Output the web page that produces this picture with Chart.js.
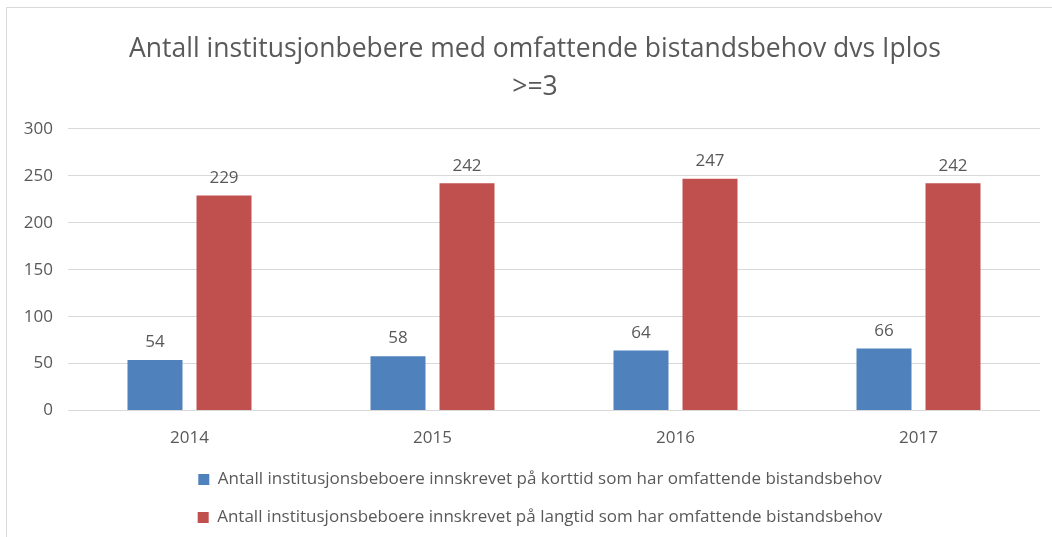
<!DOCTYPE html>
<html>
<head>
<meta charset="utf-8">
<script src="https://cdn.jsdelivr.net/npm/chart.js@4/dist/chart.umd.min.js"></script>
<style>
  html, body { margin: 0; padding: 0; background: #fff; overflow: hidden; }
  #wrap { position: relative; width: 1052px; height: 537px; overflow: hidden; }
  #frame { position: absolute; left: 6px; top: 7px; width: 1100px; height: 600px; border: 1px solid #d9d9d9; box-sizing: border-box; }
  #chart { position: absolute; left: 0; top: 0; }
</style>
</head>
<body>
<div id="wrap">
  <div id="frame"></div>
  <canvas id="chart" width="1052" height="543"></canvas>
</div>
<script>
const years = ["2014", "2015", "2016", "2017"];
const shortTerm = [54, 58, 64, 66];
const longTerm = [229, 242, 247, 242];
const yTicks = [0, 50, 100, 150, 200, 250, 300];

const textColor = "#595959";
const fontFamily = "'Open Sans', 'Noto Sans', sans-serif";

// numbers above each bar
const valueLabels = {
  id: "valueLabels",
  afterDatasetsDraw(chart) {
    const { ctx } = chart;
    ctx.save();
    ctx.fillStyle = textColor;
    ctx.font = "17px " + fontFamily;
    ctx.textAlign = "center";
    ctx.textBaseline = "bottom";
    chart.data.datasets.forEach((ds, i) => {
      chart.getDatasetMeta(i).data.forEach((bar, j) => {
        ctx.fillText(ds.data[j], bar.x, bar.y - 9);
      });
    });
    ctx.restore();
  },
};

// small offsets so title and legend sit where the original has them
const boxNudge = {
  id: "boxNudge",
  afterLayout(chart) {
    const move = (box, dx, dy) => {
      if (!box) return;
      box.left += dx;
      box.right += dx;
      box.top += dy;
      box.bottom += dy;
    };
    move(chart.titleBlock, 15, 0);
    move(chart.legend, 20, -7);
  },
};

new Chart(document.getElementById("chart"), {
  type: "bar",
  data: {
    labels: years,
    datasets: [
      {
        label: "Antall institusjonsbeboere innskrevet på korttid som har omfattende bistandsbehov",
        data: shortTerm,
        backgroundColor: "#4f81bd",
      },
      {
        label: "Antall institusjonsbeboere innskrevet på langtid som har omfattende bistandsbehov",
        data: longTerm,
        backgroundColor: "#c0504d",
      },
    ],
  },
  options: {
    responsive: false,
    animation: false,
    categoryPercentage: 0.568,
    barPercentage: 0.797,
    layout: { padding: { left: 0, right: 12, top: 0, bottom: 0 } },
    plugins: {
      title: {
        display: true,
        text: ["Antall institusjonbebere med omfattende bistandsbehov dvs Iplos", ">=3"],
        color: textColor,
        font: { family: fontFamily, size: 26.5, weight: "normal", lineHeight: 1.45 },
        padding: { top: 30, bottom: 22 },
      },
      legend: {
        position: "bottom",
        labels: {
          color: textColor,
          font: { family: fontFamily, size: 17 },
          boxWidth: 11,
          boxHeight: 11,
          padding: 21,
        },
      },
      tooltip: { enabled: false },
    },
    scales: {
      x: {
        grid: { display: false },
        border: { display: false },
        ticks: { color: textColor, font: { family: fontFamily, size: 17 }, padding: 9 },
      },
      y: {
        min: 0,
        max: 300,
        afterFit(scale) { scale.width = 68; },
        afterBuildTicks(scale) { scale.ticks = yTicks.map((v) => ({ value: v })); },
        grid: { color: "#d9d9d9", lineWidth: 1, drawTicks: false },
        border: { display: false },
        ticks: { color: textColor, font: { family: fontFamily, size: 17 }, padding: 15 },
      },
    },
  },
  plugins: [valueLabels, boxNudge],
});
</script>
</body>
</html>
